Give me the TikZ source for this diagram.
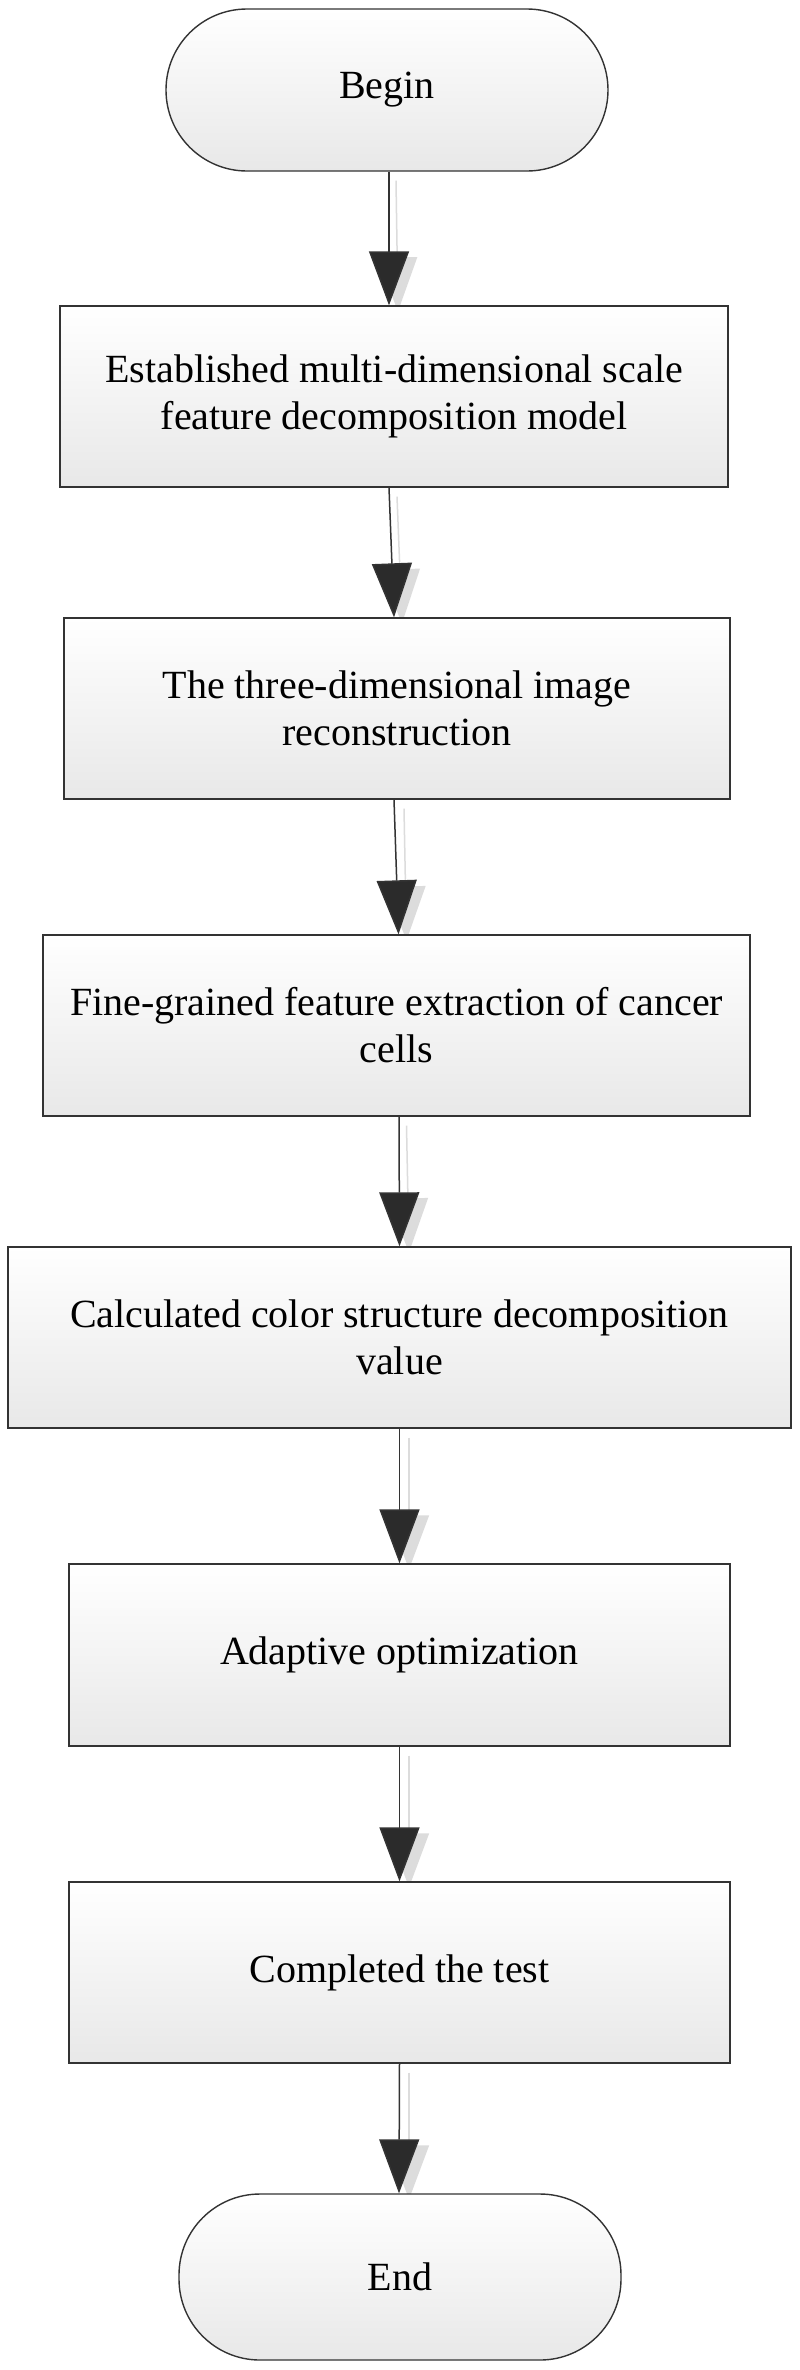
\documentclass[tikz,border=0pt]{standalone}
\usepackage{fontspec}
\setmainfont{Liberation Serif}
\usetikzlibrary{arrows.meta}
\pgfdeclarelayer{bg}
\pgfsetlayers{bg,main}
\definecolor{edge}{HTML}{333333}
\definecolor{headfill}{HTML}{2B2B2B}
\definecolor{shadowc}{HTML}{DCDCDC}
\tikzset{
  stepbox/.style={draw=edge, line width=1.4pt, top color=white, bottom color=black!9,
    align=center, font=\fontsize{40}{47}\selectfont, inner sep=0pt},
  term/.style={stepbox, rounded corners=81pt},
  flow/.style={draw=edge, line width=1.5pt,
    -{Triangle[width=40pt,length=54pt,fill=headfill]}},
  shadowflow/.style={draw=shadowc, line width=1.5pt,
    -{Triangle[width=40pt,length=54pt,fill=shadowc]}},
}
\begin{document}
\begin{tikzpicture}[x=1pt,y=-1pt]
\useasboundingbox (0,0) rectangle (800,2370);

\node[term, minimum width=442pt, minimum height=162pt] (begin) at (387,90) {Begin};
\node[stepbox, minimum width=668pt, minimum height=181pt] (b1) at (394,396.5)
  {Established multi-dimensional scale\\feature decomposition model};
\node[stepbox, minimum width=666pt, minimum height=181pt] (b2) at (397,708.5)
  {The three-dimensional image\\reconstruction};
\node[stepbox, minimum width=707pt, minimum height=181pt] (b3) at (396.5,1025.5)
  {Fine-grained feature extraction of cancer\\cells};
\node[stepbox, minimum width=783pt, minimum height=181pt] (b4) at (399.5,1337.5)
  {Calculated color structure decomposition\\value};
\node[stepbox, minimum width=661pt, minimum height=182pt] (b5) at (399.5,1655)
  {Adaptive optimization};
\node[stepbox, minimum width=661pt, minimum height=181pt] (b6) at (399.5,1972.5)
  {Completed the test};
\node[term, minimum width=442pt, minimum height=166pt] (end) at (400,2277) {End};

\begin{pgfonlayer}{bg}
\fill[white] (0,0) rectangle (800,2370);
\draw[shadowflow] ([shift={(9,9)}]begin.south) -- ([shift={(11,6)}]begin.south |- b1.north);
\draw[shadowflow] ([shift={(3,9)}]b1.south) -- ([shift={(5,6)}]b2.north);
\draw[shadowflow] ([shift={(7,9)}]b2.south) -- ([shift={(10,6)}]b3.north);
\draw[shadowflow] ([shift={(10,9)}]b3.south) -- ([shift={(9.5,6)}]b4.north);
\draw[shadowflow] ([shift={(9.5,9)}]b4.south) -- ([shift={(9.5,6)}]b5.north);
\draw[shadowflow] ([shift={(9.5,9)}]b5.south) -- ([shift={(9.5,6)}]b6.north);
\draw[shadowflow] ([shift={(9.5,9)}]b6.south) -- ([shift={(9,6)}]end.north);
\end{pgfonlayer}

\draw[flow] ([xshift=2pt]begin.south) -- ([xshift=2pt]begin.south |- b1.north);
\draw[flow] ([xshift=-5pt]b1.south) -- ([xshift=-3pt]b2.north);
\draw[flow] ([xshift=-3pt]b2.south) -- ([xshift=2pt]b3.north);
\draw[flow] ([xshift=2.5pt]b3.south) -- (b4.north);
\draw[flow] (b4.south) -- (b5.north);
\draw[flow] (b5.south) -- (b6.north);
\draw[flow] (b6.south) -- ([xshift=-1pt]end.north);
\end{tikzpicture}
\end{document}
